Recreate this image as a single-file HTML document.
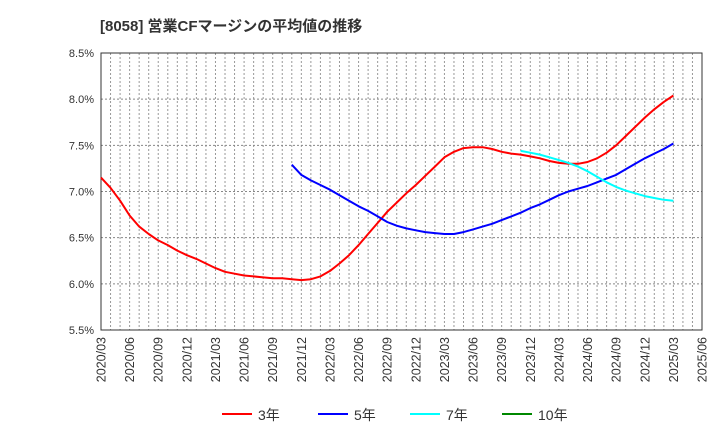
<!DOCTYPE html>
<html><head><meta charset="utf-8"><style>
body{margin:0;background:#fff;}
svg text{font-family:"Liberation Sans","Noto Sans CJK JP",sans-serif;}
</style></head><body>
<svg id="c" width="720" height="440" xmlns="http://www.w3.org/2000/svg">
<text x="100" y="31" font-size="15" font-weight="bold" fill="#333">[8058]  営業CFマージンの平均値の推移</text>
<g id="grid"></g><g id="axes"></g><g id="series"></g><g id="legend"></g>
</svg>
<script>
const yTicks=[5.5,6.0,6.5,7.0,7.5,8.0,8.5];
const xTickLabels=["2020/03","2020/06","2020/09","2020/12","2021/03","2021/06","2021/09","2021/12","2022/03","2022/06","2022/09","2022/12","2023/03","2023/06","2023/09","2023/12","2024/03","2024/06","2024/09","2024/12","2025/03","2025/06"];
const s3Start=0;
const s3=[7.15,7.04,6.90,6.74,6.62,6.54,6.47,6.42,6.36,6.31,6.27,6.22,6.17,6.13,6.11,6.09,6.08,6.07,6.06,6.06,6.05,6.04,6.05,6.08,6.14,6.22,6.31,6.42,6.54,6.66,6.78,6.88,6.98,7.07,7.17,7.27,7.37,7.43,7.47,7.48,7.48,7.46,7.43,7.41,7.40,7.38,7.36,7.33,7.31,7.30,7.30,7.32,7.36,7.42,7.50,7.60,7.70,7.80,7.89,7.97,8.04];
const s5Start=20;
const s5=[7.29,7.18,7.12,7.07,7.02,6.96,6.90,6.84,6.79,6.73,6.67,6.63,6.60,6.58,6.56,6.55,6.54,6.54,6.56,6.59,6.62,6.65,6.69,6.73,6.77,6.82,6.86,6.91,6.96,7.00,7.03,7.06,7.10,7.14,7.18,7.24,7.30,7.36,7.41,7.46,7.52];
const s7Start=44;
const s7=[7.44,7.42,7.40,7.37,7.34,7.31,7.27,7.22,7.16,7.10,7.05,7.01,6.98,6.95,6.93,6.91,6.90];
const s10=[];
const L=101,R=702,T=53,B=330,NM=63;
const NS="http://www.w3.org/2000/svg";
const xS=i=>L+i*(R-L)/NM;
const yS=v=>B-(v-5.5)/3*(B-T);
function mk(t,a,p){const e=document.createElementNS(NS,t);for(const k in a)e.setAttribute(k,a[k]);p.appendChild(e);return e;}
const grid=document.getElementById('grid'),axes=document.getElementById('axes'),ser=document.getElementById('series'),leg=document.getElementById('legend');
for(let m=1;m<NM;m++){const l=mk('line',{x1:xS(m),x2:xS(m),y1:T,y2:B,stroke:'#999','stroke-width':1,'stroke-dasharray':'2,2'},grid);

}
yTicks.forEach(v=>{if(v>5.5&&v<8.5){const l=mk('line',{x1:L,x2:R,y1:yS(v),y2:yS(v),stroke:'#888','stroke-width':1,'stroke-dasharray':'2,2'},grid);

}
const t=mk('text',{x:L-7,y:yS(v)+4,'text-anchor':'end','font-size':11,fill:'#333'},axes);t.textContent=v.toFixed(1)+'%';

});
xTickLabels.forEach((s,k)=>{const x=xS(k*3);const t=mk('text',{x:0,y:0,transform:`translate(${x+4.5},${B+7}) rotate(-90)`,'text-anchor':'end','font-size':12.5,fill:'#333'},axes);t.textContent=s;

});
const fr=mk('rect',{x:L,y:T,width:R-L,height:B-T,fill:'none',stroke:'#333','stroke-width':1},axes);


function line(arr,start,col,name){if(!arr.length)return;const d=arr.map((v,i)=>(i?'L':'M')+xS(start+i).toFixed(1)+','+yS(v).toFixed(1)).join('');
const p=mk('path',{d:d,fill:'none',stroke:col,'stroke-width':2,'stroke-linejoin':'round'},ser);

}
line(s3,s3Start,'#f00','series-3yr');
line(s5,s5Start,'#00f','series-5yr');
line(s7,s7Start,'#0ff','series-7yr');
line(s10,0,'#080','series-10yr');
const items=[['3年','#f00',222],['5年','#00f',318],['7年','#0ff',410],['10年','#080',502]];
items.forEach(([n,c,x])=>{const g=mk('g',{},leg);


mk('line',{x1:x,x2:x+30,y1:414,y2:414,stroke:c,'stroke-width':2},g);
const t=mk('text',{x:x+36,y:420,'font-size':14,fill:'#333'},g);t.textContent=n;});
</script>
</body></html>
